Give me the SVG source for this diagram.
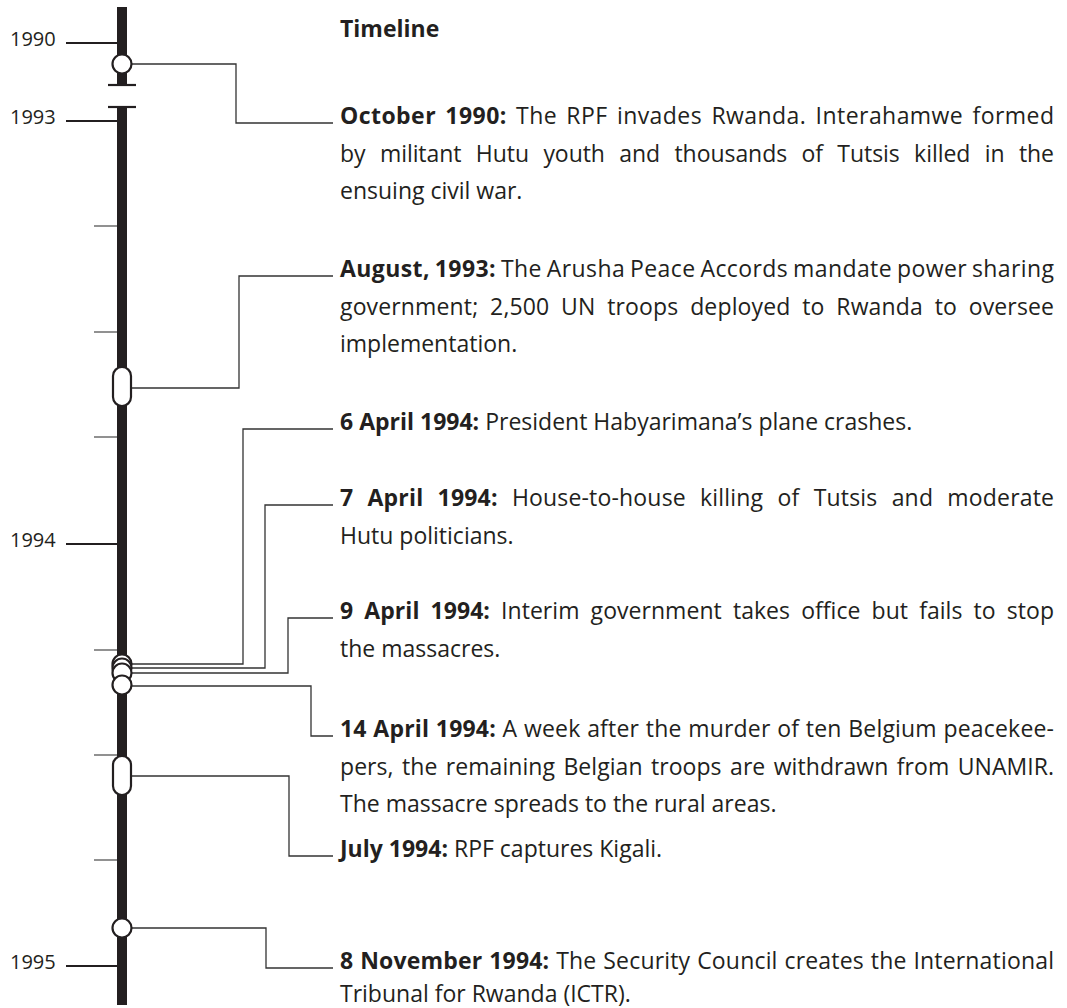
<svg xmlns="http://www.w3.org/2000/svg" width="1067" height="1008" viewBox="0 0 1067 1008">
<style>
.t{font-family:"Open Sans","Noto Sans","Liberation Sans",sans-serif;font-size:23px;fill:#231f20}
.b{font-weight:bold}
.yr{font-family:"Open Sans","Noto Sans","Liberation Sans",sans-serif;font-size:20px;fill:#231f20}
.bar{fill:#231f20}
.yt{stroke:#231f20;stroke-width:2.2;fill:none}
.mt{stroke:#555;stroke-width:1.3;fill:none}
.cap{stroke:#231f20;stroke-width:2.2;fill:none}
.c{stroke:#333;stroke-width:1.3;fill:none}
.m{fill:#fff;stroke:#231f20;stroke-width:2.2}
</style>
<g id="axis">
<rect class="bar" x="117" y="7" width="10" height="78"/>
<line class="cap" x1="108" y1="85" x2="136" y2="85"/>
<rect class="bar" x="117" y="107" width="10" height="898"/>
<line class="cap" x1="108" y1="107" x2="136" y2="107"/>
<line class="yt" x1="66" y1="43" x2="117" y2="43"/>
<line class="yt" x1="66" y1="121" x2="117" y2="121"/>
<line class="yt" x1="66" y1="544" x2="117" y2="544"/>
<line class="yt" x1="66" y1="966" x2="117" y2="966"/>
<line class="mt" x1="94" y1="226" x2="117" y2="226"/>
<line class="mt" x1="94" y1="332" x2="117" y2="332"/>
<line class="mt" x1="94" y1="437" x2="117" y2="437"/>
<line class="mt" x1="94" y1="650" x2="117" y2="650"/>
<line class="mt" x1="94" y1="755" x2="117" y2="755"/>
<line class="mt" x1="94" y1="860" x2="117" y2="860"/>
<text class="yr" x="10" y="46">1990</text>
<text class="yr" x="10" y="124">1993</text>
<text class="yr" x="10" y="547">1994</text>
<text class="yr" x="10" y="969">1995</text>
</g>
<g id="connectors">
<path class="c" d="M132,64 H236 V123 H333"/>
<path class="c" d="M132,388 H239 V276 H333"/>
<path class="c" d="M132,664 H243 V429 H333"/>
<path class="c" d="M132,668 H265 V505 H333"/>
<path class="c" d="M132,673 H288 V618 H333"/>
<path class="c" d="M132,686 H311 V736 H333"/>
<path class="c" d="M132,776 H289 V856 H333"/>
<path class="c" d="M132,928 H266 V968 H333"/>
</g>
<g id="markers">
<circle class="m" cx="122" cy="64" r="9.5"/>
<rect class="m" x="113" y="367" width="18" height="39" rx="9"/>
<circle class="m" cx="122" cy="664" r="9.5"/>
<circle class="m" cx="122" cy="668" r="9.5"/>
<circle class="m" cx="122" cy="673" r="9.5"/>
<circle class="m" cx="122" cy="685" r="9.5"/>
<rect class="m" x="113" y="756" width="18" height="39" rx="9"/>
<circle class="m" cx="122" cy="928" r="9.5"/>
</g>
<g id="title"><text class="t b" x="340" y="37">Timeline</text></g>
<g id="ev-oct1990">
<text class="t" x="340" y="124" word-spacing="2.9" textLength="714" lengthAdjust="spacing"><tspan class="b">October 1990:</tspan> The RPF invades Rwanda. Interahamwe formed</text>
<text class="t" x="340" y="161.5" word-spacing="8.5" textLength="714" lengthAdjust="spacing">by militant Hutu youth and thousands of Tutsis killed in the</text>
<text class="t" x="340" y="199">ensuing civil war.</text>
</g>
<g id="ev-aug1993">
<text class="t" x="340" y="277" word-spacing="-1.4" textLength="714" lengthAdjust="spacing"><tspan class="b">August, 1993:</tspan> The Arusha Peace Accords mandate power sharing</text>
<text class="t" x="340" y="314.5" word-spacing="5.6" textLength="714" lengthAdjust="spacing">government; 2,500 UN troops deployed to Rwanda to oversee</text>
<text class="t" x="340" y="352">implementation.</text>
</g>
<g id="ev-6apr">
<text class="t" x="340" y="430"><tspan class="b">6 April 1994:</tspan> President Habyarimana’s plane crashes.</text>
</g>
<g id="ev-7apr">
<text class="t" x="340" y="506" word-spacing="8.1" textLength="714" lengthAdjust="spacing"><tspan class="b">7 April 1994:</tspan> House-to-house killing of Tutsis and moderate</text>
<text class="t" x="340" y="543.5">Hutu politicians.</text>
</g>
<g id="ev-9apr">
<text class="t" x="340" y="619" word-spacing="5.1" textLength="714" lengthAdjust="spacing"><tspan class="b">9 April 1994:</tspan> Interim government takes office but fails to stop</text>
<text class="t" x="340" y="656.5">the massacres.</text>
</g>
<g id="ev-14apr">
<text class="t" x="340" y="737" word-spacing="0.5" textLength="714" lengthAdjust="spacing"><tspan class="b">14 April 1994:</tspan> A week after the murder of ten Belgium peacekee-</text>
<text class="t" x="340" y="774.5" word-spacing="2.4" textLength="714" lengthAdjust="spacing">pers, the remaining Belgian troops are withdrawn from UNAMIR.</text>
<text class="t" x="340" y="812">The massacre spreads to the rural areas.</text>
</g>
<g id="ev-jul1994">
<text class="t" x="340" y="857"><tspan class="b">July 1994:</tspan> RPF captures Kigali.</text>
</g>
<g id="ev-nov1994">
<text class="t" x="340" y="969" word-spacing="0.7" textLength="714" lengthAdjust="spacing"><tspan class="b">8 November 1994:</tspan> The Security Council creates the International</text>
<text class="t" x="340" y="1002">Tribunal for Rwanda (ICTR).</text>
</g>
</svg>
